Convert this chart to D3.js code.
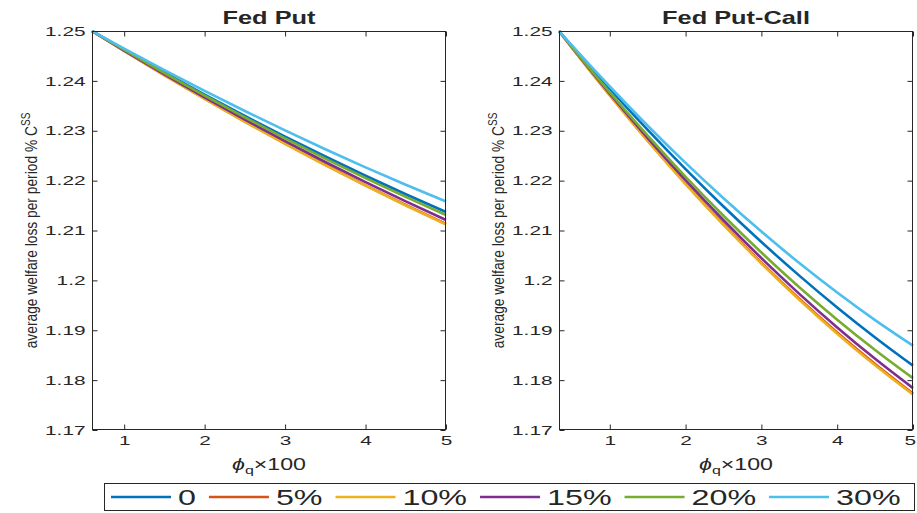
<!DOCTYPE html>
<html>
<head>
<meta charset="utf-8">
<script src="https://cdn.jsdelivr.net/npm/d3@7"></script>
<style>
  html, body { margin: 0; padding: 0; background: #fff; }
  svg { display: block; }
  text { font-family: "Liberation Sans", Arial, Helvetica, sans-serif; fill: #262626; }
</style>
</head>
<body>
<svg id="chart" width="917" height="513"></svg>
<script>
// ---------------- DATA ----------------
const seriesNames = ["0", "5%", "10%", "15%", "20%", "30%"];
const seriesColors = ["#0072BD", "#D95319", "#EDB120", "#7E2F8E", "#77AC30", "#4DBEEE"];

// Left panel: Fed Put
const xPut = [0.6, 1, 1.5, 2, 2.5, 3, 3.5, 4, 4.5, 5];
const put0  = [1.25, 1.24625, 1.24168, 1.23726, 1.23297, 1.22884, 1.22484, 1.22098, 1.21727, 1.2137];
const put5  = [1.25, 1.24600, 1.24113, 1.23642, 1.23185, 1.22744, 1.22318, 1.21906, 1.21511, 1.2113];
const put10 = [1.25, 1.24599, 1.24111, 1.23638, 1.23179, 1.22738, 1.22310, 1.21898, 1.21501, 1.2112];
const put15 = [1.25, 1.24608, 1.24131, 1.23670, 1.23222, 1.22791, 1.22373, 1.21970, 1.21583, 1.2121];
const put20 = [1.25, 1.24619, 1.24154, 1.23705, 1.23269, 1.22849, 1.22442, 1.22050, 1.21673, 1.2131];
const put30 = [1.25, 1.24647, 1.24216, 1.23800, 1.23396, 1.23007, 1.22630, 1.22266, 1.21917, 1.21581];

// Right panel: Fed Put-Call
const xPutCall = [0.33, 0.5, 1, 1.5, 2, 2.5, 3, 3.5, 4, 4.5, 5];
const pc0  = [1.25, 1.24699, 1.23840, 1.23017, 1.22231, 1.21482, 1.20770, 1.20095, 1.19456, 1.18855, 1.1829];
const pc5  = [1.25, 1.24666, 1.23712, 1.22803, 1.21941, 1.21125, 1.20356, 1.19632, 1.18955, 1.18323, 1.1773];
const pc10 = [1.25, 1.24664, 1.23707, 1.22795, 1.21930, 1.21111, 1.20339, 1.19612, 1.18932, 1.18298, 1.1771];
const pc15 = [1.25, 1.24673, 1.23742, 1.22853, 1.22008, 1.21205, 1.20446, 1.19730, 1.19057, 1.18427, 1.1784];
const pc20 = [1.25, 1.24680, 1.23769, 1.22902, 1.22077, 1.21296, 1.20558, 1.19864, 1.19213, 1.18605, 1.1804];
const pc30 = [1.25, 1.24711, 1.23887, 1.23101, 1.22355, 1.21647, 1.20978, 1.20347, 1.19756, 1.19203, 1.1869];

const xTicks = [1, 2, 3, 4, 5];
const yTicks = [1.17, 1.18, 1.19, 1.2, 1.21, 1.22, 1.23, 1.24, 1.25];
const yTickLabels = ["1.17", "1.18", "1.19", "1.2", "1.21", "1.22", "1.23", "1.24", "1.25"];

const panels = [
  { title: "Fed Put", x: xPut, ys: [put0, put5, put10, put15, put20, put30], xDomain: [0.6, 5], left: 92 },
  { title: "Fed Put-Call", x: xPutCall, ys: [pc0, pc5, pc10, pc15, pc20, pc30], xDomain: [0.33, 5], left: 559 }
];

// ---------------- LAYOUT ----------------
const svg = d3.select("#chart");
svg.append("rect").attr("width", 917).attr("height", 513).attr("fill", "#fff");

const plotW = 354, plotTop = 31, plotBottom = 430;
const axisColor = "#262626";
const tickScale = 1.6;
const y = d3.scaleLinear().domain([1.17, 1.25]).range([plotBottom, plotTop]);

panels.forEach(p => {
  const x = d3.scaleLinear().domain(p.xDomain).range([p.left, p.left + plotW]);
  const g = svg.append("g");

  // lines
  p.ys.forEach((vals, i) => {
    const pts = p.x.map((xv, j) => [xv, vals[j]]);
    g.append("path")
      .datum(pts)
      .attr("fill", "none")
      .attr("stroke", seriesColors[i])
      .attr("stroke-width", 2.6)
      .attr("stroke-linejoin", "round")
      .attr("d", d3.line().x(d => x(d[0])).y(d => y(d[1])).curve(d3.curveMonotoneX));
  });

  // box
  g.append("rect")
    .attr("x", p.left + 0.5).attr("y", plotTop + 0.5)
    .attr("width", plotW - 1).attr("height", plotBottom - plotTop - 1)
    .attr("fill", "none").attr("stroke", axisColor).attr("stroke-width", 1);

  // axes (ticks inward)
  const axL = g.append("g").attr("transform", `translate(${p.left + 0.5},0)`)
    .call(d3.axisLeft(y).tickValues(yTicks).tickFormat((d, i) => yTickLabels[i])
      .tickSizeInner(-5).tickSizeOuter(0).tickPadding(7));
  const axR = g.append("g").attr("transform", `translate(${p.left + plotW - 0.5},0)`)
    .call(d3.axisRight(y).tickValues(yTicks).tickFormat("").tickSizeInner(-5).tickSizeOuter(0));
  const axB = g.append("g").attr("transform", `translate(0,${plotBottom - 0.5})`)
    .call(d3.axisBottom(x).tickValues(xTicks).tickFormat(d3.format("d"))
      .tickSizeInner(-5).tickSizeOuter(0).tickPadding(7));
  const axT = g.append("g").attr("transform", `translate(0,${plotTop + 0.5})`)
    .call(d3.axisTop(x).tickValues(xTicks).tickFormat("").tickSizeInner(-5).tickSizeOuter(0));

  [axL, axR, axB, axT].forEach(a => {
    a.select(".domain").remove();
    a.selectAll("line").attr("stroke", axisColor);
  });
  axL.selectAll("text")
    .attr("font-family", "Liberation Sans, Arial, sans-serif")
    .attr("font-size", 13).attr("fill", axisColor)
    .attr("x", -7 / tickScale).attr("transform", `scale(${tickScale},1)`);
  axB.selectAll("text")
    .attr("font-family", "Liberation Sans, Arial, sans-serif")
    .attr("font-size", 13).attr("fill", axisColor)
    .attr("y", 6).attr("transform", `scale(${tickScale},1)`);
  // keep the last tick label inside the page edge
  axB.selectAll("text").each(function () {
    const bb = this.getBoundingClientRect();
    if (bb.right > 916) d3.select(this).attr("x", -(bb.right - 916) / tickScale);
  });

  const cx = p.left + plotW / 2;

  // title
  svg.append("text")
    .attr("transform", `translate(${cx},24) scale(1.45,1)`)
    .attr("text-anchor", "middle")
    .attr("font-weight", "bold").attr("font-size", 17.5)
    .attr("fill", "#000")
    .text(p.title);

  // x label
  const xl = svg.append("text")
    .attr("transform", `translate(${cx},470) scale(1.45,1)`)
    .attr("text-anchor", "middle")
    .attr("font-size", 16);
  xl.append("tspan").attr("font-style", "italic").text("ϕ");
  xl.append("tspan").attr("font-size", 11).attr("dy", 4).text("q");
  xl.append("tspan").attr("dy", -4).text("×100");

  // y label
  const yl = svg.append("text")
    .attr("transform", `translate(${p.left - 55},${(plotTop + plotBottom) / 2}) scale(1.25,1) rotate(-90)`)
    .attr("text-anchor", "middle")
    .attr("font-size", 13.8);
  yl.append("tspan").text("average welfare loss per period % C");
  yl.append("tspan").attr("font-size", 10).attr("dy", -6).text("SS");
});

// ---------------- LEGEND ----------------
const leg = svg.append("g");
leg.append("rect")
  .attr("x", 104.5).attr("y", 483.5).attr("width", 810).attr("height", 27)
  .attr("fill", "#fff").attr("stroke", axisColor).attr("stroke-width", 1);
let lx = 111;
const legScale = 1.5;
seriesNames.forEach((name, i) => {
  leg.append("line")
    .attr("x1", lx).attr("x2", lx + 60).attr("y1", 497).attr("y2", 497)
    .attr("stroke", seriesColors[i]).attr("stroke-width", 2.6);
  const t = leg.append("text")
    .attr("transform", `translate(${lx + 67},505) scale(${legScale},1)`)
    .attr("font-size", 21.5).attr("fill", "#000")
    .text(name);
  const w = t.node().getComputedTextLength() * legScale;
  lx = lx + 67 + w + 13;
});
</script>
</body>
</html>
